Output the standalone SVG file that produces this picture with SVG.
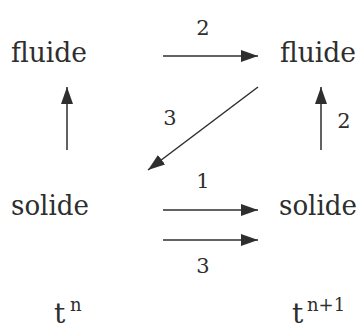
<svg xmlns="http://www.w3.org/2000/svg" width="362" height="331" viewBox="0 0 362 331">
<style>
.t{font-family:"DejaVu Serif","Liberation Serif",serif;fill:#2e2e2e}
.n{font-size:28px}
.l{font-size:21px;text-anchor:middle}
.s{font-size:18px}
.c{stroke:#2e2e2e;stroke-width:1.5;fill:none;marker-end:url(#ah)}
</style>
<defs>
<marker id="ah" markerUnits="userSpaceOnUse" markerWidth="18" markerHeight="13" refX="17" refY="6" orient="auto">
<path d="M0,0 L17,6 L0,12 z" fill="#2e2e2e"/>
</marker>
</defs>
<rect width="362" height="331" fill="#fff"/>
<g id="fluide-n"><text class="t n" x="11" y="62" textLength="76" lengthAdjust="spacingAndGlyphs">fluide</text></g>
<g id="fluide-n1"><text class="t n" x="280" y="62" textLength="76" lengthAdjust="spacingAndGlyphs">fluide</text></g>
<g id="solide-n"><text class="t n" x="11" y="215" textLength="78" lengthAdjust="spacingAndGlyphs">solide</text></g>
<g id="solide-n1"><text class="t n" x="279" y="215" textLength="78" lengthAdjust="spacingAndGlyphs">solide</text></g>
<g id="time-n"><text class="t n" x="54" y="323">t</text><text class="t s" x="70" y="311">n</text></g>
<g id="time-n1"><text class="t n" x="292" y="323">t</text><text class="t s" x="307" y="311">n+1</text></g>
<g id="connectors">
<line class="c" x1="163" y1="56" x2="258" y2="56"/>
<line class="c" x1="258" y1="87" x2="148" y2="170"/>
<line class="c" x1="67" y1="150" x2="67" y2="87"/>
<line class="c" x1="321" y1="150" x2="321" y2="87"/>
<line class="c" x1="163" y1="210" x2="258" y2="210"/>
<line class="c" x1="163" y1="240" x2="258" y2="240"/>
<text class="t l" x="203" y="35">2</text>
<text class="t l" x="170" y="125">3</text>
<text class="t l" x="344" y="128">2</text>
<text class="t l" x="203" y="188">1</text>
<text class="t l" x="203" y="273">3</text>
</g>
</svg>
